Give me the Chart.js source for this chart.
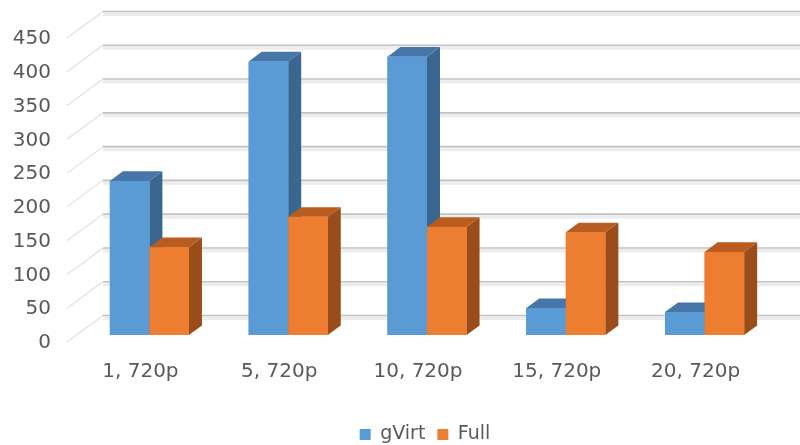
<!DOCTYPE html>
<html>
<head>
<meta charset="utf-8">
<script src="https://cdn.jsdelivr.net/npm/chart.js@4/dist/chart.umd.min.js"></script>
<style>
  html, body { margin: 0; padding: 0; background: #ffffff; }
  #wrap { width: 800px; height: 445px; position: relative; }
</style>
</head>
<body>
<div id="wrap"><canvas id="c" width="800" height="445"></canvas></div>
<script>
// Frame rate per configuration (number of VMs, resolution)
const categories = ['1, 720p', '5, 720p', '10, 720p', '15, 720p', '20, 720p'];
const gVirtValues = [228, 405, 412, 40, 34];
const fullValues = [130, 175, 160, 152, 123];
const yTicks = [0, 50, 100, 150, 200, 250, 300, 350, 400, 450];

const FRONT_COLORS = ['#5B9BD5', '#ED7D31'];
const TOP_COLORS = ['#4677A8', '#B85D1F'];
const SIDE_COLORS = ['#3A6690', '#9A4C1A'];

// Oblique projection offsets
const BAR_DX = 13, BAR_DY = 9.6;          // depth of each column
const WALL_DX = 26, WALL_DY = 19.5;       // bar plane -> back wall
const FRONT_DX = -13, FRONT_DY = 7;       // bar plane -> front edge of floor
const LEGEND_SHIFT = 38;                  // legend sits right of the plot centre

const wallPlugin = {
  id: 'wall3d',
  afterLayout(chart) {
    if (chart.legend) {
      chart.legend.left += LEGEND_SHIFT;
      chart.legend.right += LEGEND_SHIFT;
    }
  },
  beforeDatasetsDraw(chart) {
    const { ctx, chartArea, scales } = chart;
    const y = scales.y;
    ctx.save();
    yTicks.forEach(v => {
      const py = y.getPixelForValue(v);
      const by = py - WALL_DY;
      const bx = chartArea.left + WALL_DX - 3;
      // side wall diagonal
      ctx.strokeStyle = '#e0e0e0';
      ctx.lineWidth = 1.2;
      ctx.beginPath();
      ctx.moveTo(chartArea.left + FRONT_DX, py + FRONT_DY);
      ctx.lineTo(bx, by);
      ctx.stroke();
      // back wall gridline (thin plate)
      ctx.fillStyle = '#ededed';
      ctx.fillRect(bx, by + 1, chart.width - bx, 3.5);
      ctx.strokeStyle = '#c2c2c2';
      ctx.lineWidth = 1.6;
      ctx.beginPath();
      ctx.moveTo(bx, by);
      ctx.lineTo(chart.width, by);
      ctx.stroke();
    });
    ctx.restore();
  },
  afterDatasetsDraw(chart) {
    const { ctx } = chart;
    const metas = chart.data.datasets.map((d, i) => chart.getDatasetMeta(i));
    ctx.save();
    for (let i = 0; i < categories.length; i++) {
      metas.forEach((meta, di) => {
        const bar = meta.data[i];
        if (!bar) return;
        const p = bar.getProps(['x', 'y', 'base', 'width'], true);
        const l = p.x - p.width / 2, r = p.x + p.width / 2;
        const top = p.y, base = p.base;
        // side face
        ctx.fillStyle = SIDE_COLORS[di];
        ctx.beginPath();
        ctx.moveTo(r, top);
        ctx.lineTo(r + BAR_DX, top - BAR_DY);
        ctx.lineTo(r + BAR_DX, base - BAR_DY);
        ctx.lineTo(r, base);
        ctx.closePath();
        ctx.fill();
        // top face
        ctx.fillStyle = TOP_COLORS[di];
        ctx.beginPath();
        ctx.moveTo(l, top);
        ctx.lineTo(l + BAR_DX, top - BAR_DY);
        ctx.lineTo(r + BAR_DX, top - BAR_DY);
        ctx.lineTo(r, top);
        ctx.closePath();
        ctx.fill();
        // front face
        ctx.fillStyle = FRONT_COLORS[di];
        ctx.fillRect(l, top, r - l, base - top);
      });
    }
    ctx.restore();
  }
};

new Chart(document.getElementById('c'), {
  type: 'bar',
  data: {
    labels: categories,
    datasets: [
      { label: 'gVirt', data: gVirtValues, backgroundColor: FRONT_COLORS[0], borderWidth: 0 },
      { label: 'Full', data: fullValues, backgroundColor: FRONT_COLORS[1], borderWidth: 0 }
    ]
  },
  options: {
    responsive: false,
    animation: false,
    devicePixelRatio: 1,
    layout: { padding: { top: 31, right: 26, left: 0, bottom: -9 } },
    datasets: { bar: { barPercentage: 1, categoryPercentage: 0.57 } },
    scales: {
      x: {
        grid: { display: false, drawTicks: false },
        border: { display: false },
        ticks: {
          color: '#595959',
          font: { family: 'DejaVu Sans', size: 20 },
          padding: 25,
          labelOffset: -9,
          maxRotation: 0,
          autoSkip: false
        },
        afterFit(scale) { scale.height = 78; }
      },
      y: {
        min: 0,
        max: 450,
        grid: { display: false, drawTicks: false },
        border: { display: false },
        ticks: {
          stepSize: 50,
          color: '#595959',
          font: { family: 'DejaVu Sans', size: 20 },
          padding: 29,
          labelOffset: 8
        },
        afterFit(scale) {
          scale.width = 80;
          scale.paddingTop = 0;
          scale.paddingBottom = 0;
        }
      }
    },
    plugins: {
      legend: {
        position: 'bottom',
        labels: {
          color: '#595959',
          font: { family: 'DejaVu Sans', size: 19 },
          boxWidth: 11,
          boxHeight: 11,
          padding: 12
        }
      },
      tooltip: { enabled: false }
    }
  },
  plugins: [wallPlugin]
});
</script>
</body>
</html>
